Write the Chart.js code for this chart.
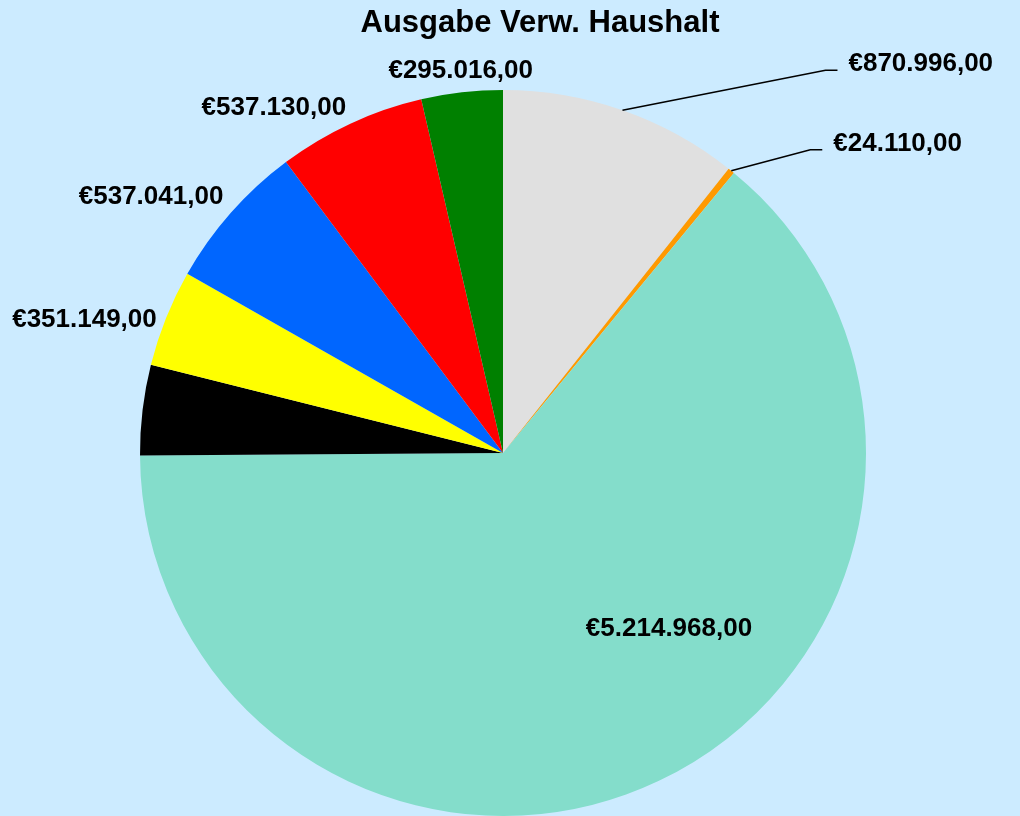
<!DOCTYPE html>
<html>
<head>
<meta charset="utf-8">
<title>Ausgabe Verw. Haushalt</title>
<script src="https://cdn.jsdelivr.net/npm/chart.js@4"></script>
<style>
  html, body { margin: 0; padding: 0; background: #CCEBFF; }
  #wrap { width: 1020px; height: 816px; position: relative; }
</style>
</head>
<body>
<div id="wrap"><canvas id="chart-pie"></canvas></div>
<script>
// Ausgabe Verw. Haushalt - pie chart
var chartTitle = "Ausgabe Verw. Haushalt";

// Posten (clockwise from 12 o'clock)
var categories = ["Posten 1", "Posten 2", "Posten 3", "Posten 4",
    "Posten 5", "Posten 6", "Posten 7", "Posten 8"];
// Beträge in Euro
var amounts = [870996, 24110, 5214968, 328000, 351149, 537041, 537130, 295016];
var sliceColors = ["#E0E0E0", "#FF9900", "#84DDCB", "#000000",
    "#FFFF00", "#0066FF", "#FF0000", "#008000"];

// how each value label is placed: outside, leader, inside, none
var labelModes = ["leader", "leader", "inside", "none",
    "outside", "outside", "outside", "outside"];

// €1.234,00 style
function euro(v) {
    var s = String(Math.round(v));
    var out = "";
    while (s.length > 3) {
        out = "." + s.slice(-3) + out;
        s = s.slice(0, -3);
    }
    return "\u20AC" + s + out + ",00";
}

var FONT = '"Liberation Sans", Arial, Helvetica, sans-serif';

var valueLabels = {
    id: 'valueLabels',
    afterDatasetsDraw: function (chart, args, opts) {
        var ctx = chart.ctx;
        var meta = chart.getDatasetMeta(0);
        var size = 26;
        ctx.save();
        ctx.font = 'bold ' + size + 'px ' + FONT;
        ctx.fillStyle = '#000';
        ctx.strokeStyle = '#000';
        ctx.lineWidth = 1.6;
        ctx.textBaseline = 'alphabetic';
        var capHalf = size * 0.716 / 2;

        meta.data.forEach(function (arc, i) {
            var mode = labelModes[i];
            if (mode === 'none') return;
            var p = arc.getProps(['x', 'y', 'startAngle', 'endAngle', 'outerRadius'], true);
            var mid = (p.startAngle + p.endAngle) / 2;
            var c = Math.cos(mid), s = Math.sin(mid);
            var text = euro(amounts[i]);

            if (mode === 'outside') {
                var r = p.outerRadius + opts.gap;
                var ax = p.x + r * c, ay = p.y + r * s;
                ctx.textAlign = c < -0.3 ? 'right' : (c > 0.3 ? 'left' : 'center');
                var cy = ay + s * 11 + (opts.nudge[i] || 0);
                ctx.fillText(text, ax, cy + capHalf);
            } else if (mode === 'leader') {
                var sx = p.x + p.outerRadius * c, sy = p.y + p.outerRadius * s;
                var off = opts.leaders[i];
                var ex = sx + off[0], ey = sy + off[1];
                ctx.beginPath();
                ctx.moveTo(sx, sy);
                ctx.lineTo(ex, ey);
                ctx.lineTo(ex + 12, ey);
                ctx.stroke();
                ctx.textAlign = 'left';
                ctx.fillText(text, ex + 23, ey + 1);
            } else if (mode === 'inside') {
                var off2 = opts.inside;
                ctx.textAlign = 'center';
                ctx.fillText(text, p.x + off2[0], p.y + off2[1] + capHalf);
            }
        });

        // title
        ctx.font = 'bold 31px ' + FONT;
        ctx.textAlign = 'center';
        ctx.fillText(chartTitle, 540, 32);
        ctx.restore();
    }
};

var pieChart = new Chart(document.querySelector('#chart-pie'), {
    type: 'pie',
    data: {
        labels: categories,
        datasets: [{
            data: amounts,
            backgroundColor: sliceColors,
            borderWidth: 0
        }]
    },
    options: {
        responsive: true,
        maintainAspectRatio: false,
        animation: false,
        layout: {
            padding: { top: 90, left: 140, right: 154, bottom: 0 }
        },
        plugins: {
            legend: { display: false },
            tooltip: { enabled: false },
            title: { display: false },
            valueLabels: {
                gap: 10,
                nudge: { 4: 8, 5: -4, 6: 1, 7: -3 },
                leaders: { 0: [203, -40], 1: [79, -21] },
                inside: [166, 174]
            }
        }
    },
    plugins: [valueLabels]
});
</script>
</body>
</html>
